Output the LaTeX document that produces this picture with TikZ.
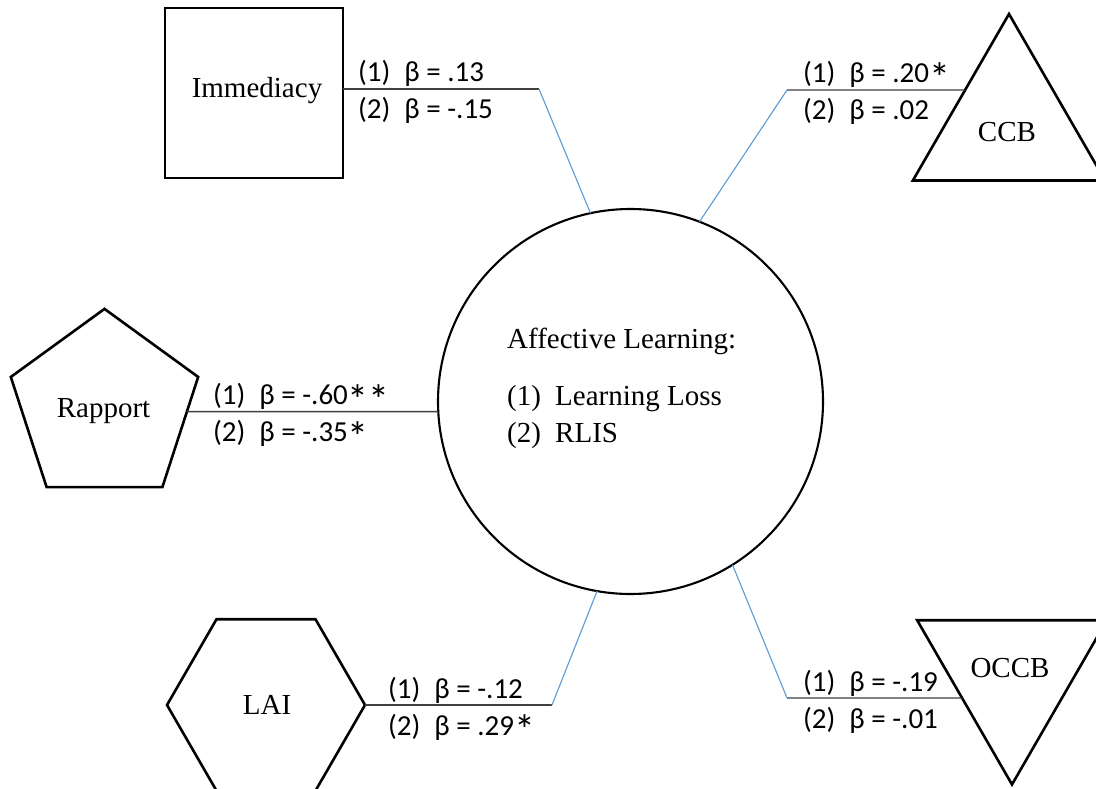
\documentclass[tikz,border=0pt]{standalone}
\usepackage{fontspec}
\usepackage{graphicx}
\setmainfont{Liberation Serif}
\newfontfamily\calib{Carlito}
\usetikzlibrary{shapes.geometric}
\definecolor{linkblue}{RGB}{91,155,213}
\definecolor{linkgray}{RGB}{64,64,64}
\newcommand\sigstar{\smash{\raisebox{-0.34em}{\scalebox{1.45}{*}}}}
\begin{document}
\begin{tikzpicture}[x=1pt,y=-1pt,
  shapebox/.style={draw=black,line width=2.6pt,inner sep=0pt,outer sep=0pt},
  shapetext/.style={font=\fontsize{29}{34}\selectfont,anchor=base,inner sep=0pt},
  circtext/.style={font=\fontsize{29}{34}\selectfont,anchor=base west,inner sep=0pt},
  coef/.style={font=\calib\fontsize{29}{34}\selectfont,anchor=base west,inner sep=0pt},
  hline/.style={draw=linkgray,line width=1.4pt},
  bline/.style={draw=linkblue,line width=1.1pt}]
\clip (0,0) rectangle (1096,789);
\fill[white] (0,0) rectangle (1096,789);

% central circle
\node[shapebox,line width=2.1pt,circle,minimum size=385pt] (C) at (630.5,401.5) {};
\node[circtext] (ct0) at (507,348) {Affective Learning:};
\node[circtext] (ct1) at (507,405) {\makebox[48pt][l]{(1)}Learning Loss};
\node[circtext] (ct2) at (507,442) {\makebox[48pt][l]{(2)}RLIS};

% outer shapes
\node[shapebox,rectangle,minimum width=178pt,minimum height=170pt] (imm) at (254,93) {};
\node[shapetext] (immt) at (257,98) {Immediacy};

\node[shapebox,regular polygon,regular polygon sides=3,minimum size=222pt] (ccb) at (1009,125) {};
\node[shapetext] (ccbt) at (1007,142) {CCB};

\node[shapebox,regular polygon,regular polygon sides=5,minimum size=197pt] (rap) at (104.5,407.4) {};
\node[shapetext] (rapt) at (103.5,417) {Rapport};

\node[shapebox,regular polygon,regular polygon sides=6,minimum size=198pt] (lai) at (266,705) {};
\node[shapetext] (lait) at (267,714) {LAI};

\node[shapebox,regular polygon,regular polygon sides=3,regular polygon rotate=180,minimum size=219pt] (occb) at (1012,675) {};
\node[shapetext] (occbt) at (1010,677) {OCCB};

% elbows
\coordinate (e1) at (539,89);
\coordinate (e2) at (787,90);
\coordinate (e2h) at (1100,90);
\coordinate (e4) at (552,705);
\coordinate (e5) at (787,698);
\coordinate (e5h) at (1100,698);
\coordinate (r0) at (C.183);
\coordinate (r1) at (rap.center |- r0);

% Immediacy
\draw[hline] (imm.east |- e1) -- (e1);
\draw[bline] (e1) -- (C.102.7);
\node[coef] (l1a) at (358,82) {(1)\hspace{0.48em}β = .13};
\node[coef] (l1b) at (358,119) {(2)\hspace{0.48em}β = -.15};

% CCB
\draw[hline] (e2) -- (intersection of ccb.corner 1--ccb.corner 2 and e2--e2h);
\draw[bline] (e2) -- (C.69.2);
\node[coef] (l2a) at (803,83) {(1)\hspace{0.48em}β = .20\sigstar};
\node[coef] (l2b) at (803,120) {(2)\hspace{0.48em}β = .02};

% Rapport
\draw[hline] (intersection of rap.corner 4--rap.corner 5 and r0--r1) -- (r0);
\node[coef] (l3a) at (213,404.7) {(1)\hspace{0.48em}β = -.60\sigstar\sigstar};
\node[coef] (l3b) at (213,441.7) {(2)\hspace{0.48em}β = -.35\sigstar};

% LAI
\draw[hline] (lai.east) -- (e4);
\draw[bline] (e4) -- (C.-100.8);
\node[coef] (l4a) at (388,698) {(1)\hspace{0.48em}β = -.12};
\node[coef] (l4b) at (388,735) {(2)\hspace{0.48em}β = .29\sigstar};

% OCCB
\draw[hline] (e5) -- (intersection of occb.corner 1--occb.corner 3 and e5--e5h);
\draw[bline] (e5) -- (C.-58.9);
\node[coef] (l5a) at (803,691) {(1)\hspace{0.48em}β = -.19};
\node[coef] (l5b) at (803,728) {(2)\hspace{0.48em}β = -.01};
\end{tikzpicture}
\end{document}
